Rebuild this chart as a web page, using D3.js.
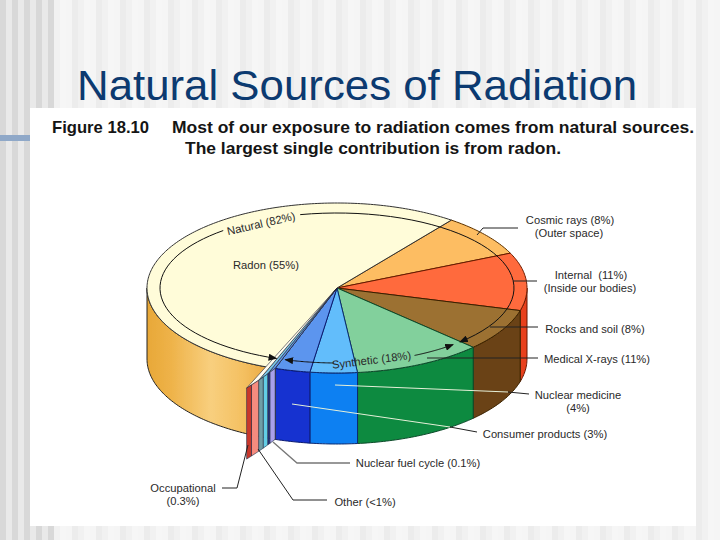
<!DOCTYPE html>
<html><head><meta charset="utf-8">
<script src="https://cdnjs.cloudflare.com/ajax/libs/d3/7.8.5/d3.min.js"></script>
<style>html,body{margin:0;padding:0;background:#f6f6f6;overflow:hidden}svg{display:block}
text{font-family:"Liberation Sans",Arial,sans-serif}</style></head>
<body><svg id="c" width="720" height="540"></svg>
<script>
// ---- data ----
const sliceNames  = ["Cosmic rays","Internal","Rocks and soil","Medical X-rays","Nuclear medicine","Consumer products","Radon"];
const sliceValues = [8,11,8,11,4,3,55];
const sliverNames  = ["Nuclear fuel cycle","Other","Occupational"];
const sliverValues = [0.1,0.5,0.3];
const groupNames = ["Natural (82%)","Synthetic (18%)"];

// ---- styling ----
const topColors  = ["#fdbd62","#ff6b3c","#9c7132","#82d09c","#62bdfb","#5c95ee","#fffcd9"];
const sideColors = ["#e8a030","#e8401f","#6a4314","#118a41","#1080f2","#1232d0","url(#gold)"];
const edgeColors = ["#5a3000","#6a1800","#3a2000","#0b4a2a","#0a2a70","#0a1a70","#222"];
const faces = [ // one exaggerated strip per colour, front to back of the exploded sliver
  {c:"#a8a0ea",w:5},{c:"#23307e",w:2},{c:"#62cde6",w:4},{c:"#6f9ea6",w:4},{c:"#f58b7e",w:6},{c:"#c8372c",w:4}];
const wedges = [{from:0,to:2,c:"#5c95ee"},{from:2,to:4,c:"#7cc6e6"},{from:4,to:6,c:"#fffdf0"}];

const svg = d3.select("#c");
const defs = svg.append("defs");
defs.append("filter").attr("id","soft").attr("x","-5%").attr("y","-5%").attr("width","110%").attr("height","110%")
  .append("feGaussianBlur").attr("stdDeviation",.35);
const gold = defs.append("linearGradient").attr("id","gold").attr("gradientUnits","userSpaceOnUse")
  .attr("x1",147).attr("x2",275).attr("y1",0).attr("y2",0);
[[0,"#e8a838"],[.18,"#eeb248"],[.5,"#f8cf7e"],[.75,"#f4c061"],[1,"#e8a43a"]].forEach(s=>gold.append("stop").attr("offset",s[0]).attr("stop-color",s[1]));
const mk = defs.append("marker").attr("id","arr").attr("viewBox","0 0 10 8").attr("refX",9).attr("refY",4)
  .attr("markerWidth",9).attr("markerHeight",7).attr("markerUnits","userSpaceOnUse").attr("orient","auto");
mk.append("path").attr("d","M0,0L10,4L0,8Z").attr("fill","#111");

// ---- background stripes ----
const W=720,H=540,STRIPE=6;
const leftStripes=["#d8d8d8","#e9e9e9"], paleStripes=["#ececec","#f1f1f1","#f6f6f6","#f5f5f5"];
const bandIdx=d3.range(W/STRIPE);
const bandX = d3.scaleBand().domain(bandIdx).range([0,W]);
svg.selectAll("rect.s").data(bandIdx).join("rect").attr("class","s")
  .attr("x",i=>bandX(i)).attr("width",bandX.bandwidth()).attr("y",0).attr("height",H)
  .attr("fill",i=>i<9?leftStripes[i%2]:paleStripes[i%4]);
svg.append("rect").attr("x",0).attr("y",135).attr("width",34).attr("height",6).attr("fill","#8fa8c8");
svg.append("rect").attr("x",30).attr("y",108).attr("width",666).attr("height",418).attr("fill","#fff");

svg.append("text").attr("x",77).attr("y",100).attr("font-size",43).attr("fill","#0c3a70")
  .attr("textLength",560).attr("lengthAdjust","spacingAndGlyphs").text("Natural Sources of Radiation");
const head=svg.append("g").attr("font-weight","bold").attr("font-size",16.5).attr("fill","#151515");
head.append("text").attr("x",52).attr("y",133).attr("textLength",97).attr("lengthAdjust","spacingAndGlyphs").text("Figure 18.10");
head.append("text").attr("x",172).attr("y",133).attr("textLength",522).attr("lengthAdjust","spacingAndGlyphs").text("Most of our exposure to radiation comes from natural sources.");
head.append("text").attr("x",185).attr("y",154).attr("textLength",376).attr("lengthAdjust","spacingAndGlyphs").text("The largest single contribution is from radon.");

// ---- pie geometry: a true pie in angle, squashed onto an ellipse by the scales ----
const px = d3.scaleLinear().domain([-1,1]).range([147,527]);
const py = d3.scaleLinear().domain([-1,1]).range([203,373]);
const depth = 71;
const deg = Math.PI/180;
const START = 37*deg;
const pie = d3.pie().sort(null).startAngle(START).endAngle(START+2*Math.PI);
const arcs = pie(sliceValues);
const P = (a,r=1,dy=0)=>[px(r*Math.sin(a)),py(-r*Math.cos(a))+dy];
const line = d3.line();
const sample=(a0,a1,r=1,dy=0)=>{const n=Math.max(2,Math.ceil(Math.abs(a1-a0)/deg));return d3.range(n+1).map(i=>P(a0+(a1-a0)*i/n,r,dy));};

const pieG = svg.append("g").attr("filter","url(#soft)");
// side walls: only the part from 90deg to 270deg faces the viewer
arcs.forEach((d,i)=>{
  const a0=Math.max(d.startAngle,90*deg), a1=Math.min(d.endAngle,270*deg);
  if(a1<=a0) return;
  pieG.append("path").attr("d",line(sample(a0,a1).concat(sample(a1,a0,1,depth)))+"Z")
    .attr("fill",sideColors[i]).attr("stroke",edgeColors[i]).attr("stroke-width",1).attr("stroke-linejoin","round");
});
// top surfaces
arcs.forEach((d,i)=>{
  pieG.append("path").attr("d",line([P(0,0)].concat(sample(d.startAngle,d.endAngle)))+"Z")
    .attr("fill",topColors[i]).attr("stroke",i==6?"#333":edgeColors[i]).attr("stroke-width",1).attr("stroke-linejoin","round");
});

// ---- the exploded sliver (Occupational + Other + Nuclear fuel cycle) ----
const sliverStart = arcs[5].endAngle;
const spread = d3.scaleLinear().domain([0,d3.sum(faces,f=>f.w)]);
const rOut = spread.copy().range([1,1.27]);
const aOut = spread.copy().range([sliverStart,sliverStart+3*deg]);
const cum = d3.cumsum(faces,f=>f.w);
const edgeT = i=>i==0?0:cum[i-1];
wedges.forEach(w=>{
  const t0=edgeT(w.from), t1=edgeT(w.to);
  pieG.append("path").attr("d",line([P(0,0),P(aOut(t0),rOut(t0)),P(aOut(t1),rOut(t1))])+"Z")
    .attr("fill",w.c).attr("stroke","#223").attr("stroke-width",.6);
});
faces.forEach((f,i)=>{
  const a=P(aOut(edgeT(i)),rOut(edgeT(i))), b=P(aOut(edgeT(i+1)),rOut(edgeT(i+1)));
  pieG.append("path").attr("d",line([a,b,[b[0],b[1]+depth],[a[0],a[1]+depth]])+"Z")
    .attr("fill",f.c).attr("stroke","#24304a").attr("stroke-width",.6).attr("stroke-linejoin","round");
});

// ---- group arcs with arrowheads ----
const arcG = svg.append("g").attr("fill","none").attr("stroke","#111").attr("stroke-width",1);
const ax = d3.scaleLinear().domain([-1,1]).range([160,514]);
const ay = d3.scaleLinear().domain([-1,1]).range([213,363]);
const Q = a=>[ax(Math.sin(a)),ay(-Math.cos(a))];
const smp=(a0,a1)=>d3.range(41).map(i=>Q((a0+(a1-a0)*i/40)*deg));
arcG.append("path").attr("d",line(smp(-12,136))).attr("marker-end","url(#arr)");
arcG.append("path").attr("d",line(smp(-40,-160))).attr("marker-end","url(#arr)");
arcG.append("path").attr("d",line(smp(181,197))).attr("marker-end","url(#arr)");
arcG.append("path").attr("d",line(smp(154,139))).attr("marker-end","url(#arr)");

// ---- leaders ----
const dark=[
 [[477,235],[483,228],[518,228]],
 [[513,281],[537,281]],
 [[490,327],[538,327]],
 [[427,358],[538,358]],
 [[508,392],[529,394]],
 [[450,427],[477,432]],
 [[258,449],[293,500],[327,500]],
 [[248,445],[237,488],[222,488]]];
const lg=svg.append("g").attr("fill","none");
dark.forEach(p=>lg.append("path").attr("d",line(p)).attr("stroke","#222").attr("stroke-width",1));
lg.append("path").attr("d",line([[273,442],[297,463],[350,463]])).attr("stroke","#777").attr("stroke-width",1.3);
[[[335,385],[508,392]],[[292,404],[450,427]]].forEach(p=>
  lg.append("path").attr("d",line(p)).attr("stroke","#e6f0d8").attr("stroke-width",1));

// ---- labels ----
const labelTexts = [
 ["Cosmic rays (8%)",570,224],["(Outer space)",569,237],
 ["Internal  (11%)",591,279],["(Inside our bodies)",590,292],
 ["Rocks and soil (8%)",595,333],["Medical X-rays (11%)",597,363],
 ["Nuclear medicine",578,399],["(4%)",578,412],
 ["Consumer products (3%)",545,438],["Nuclear fuel cycle (0.1%)",418,467],
 ["Other (<1%)",365,506],["Occupational",183,492],["(0.3%)",183,505],
 ["Radon (55%)",266,269]];
svg.append("g").attr("font-size",11.2).attr("fill","#2a2a2a").attr("text-anchor","middle")
 .selectAll("text").data(labelTexts).join("text").attr("x",d=>d[1]).attr("y",d=>d[2]).style("white-space","pre").text(d=>d[0]);
svg.append("text").attr("font-size",11.3).attr("fill","#2a2a2a").attr("text-anchor","middle")
  .attr("transform","translate(262,227.5) rotate(-13)").text(groupNames[0]);
svg.append("text").attr("font-size",11.3).attr("fill","#2a2a2a").attr("text-anchor","middle")
  .attr("transform","translate(372,364) rotate(-7)").text(groupNames[1]);
</script></body></html>
